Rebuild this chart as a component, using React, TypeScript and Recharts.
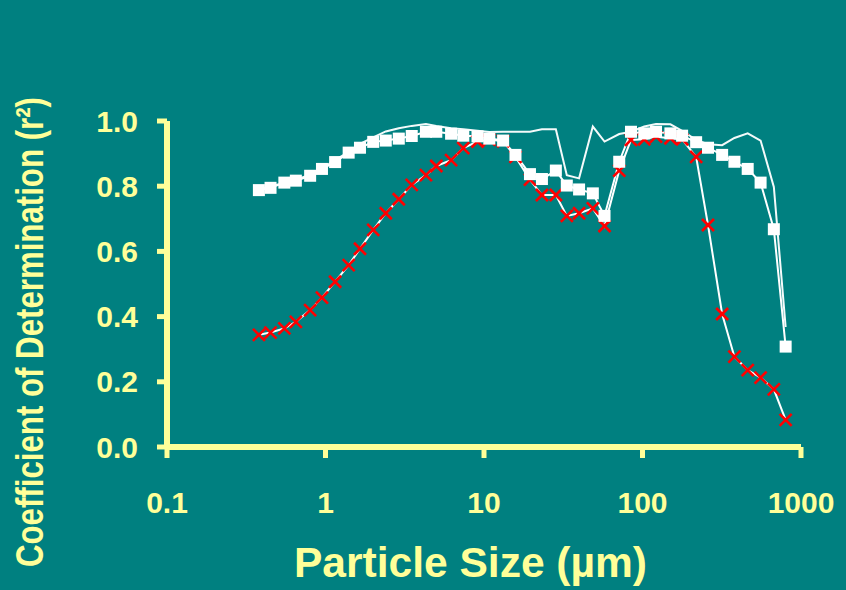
import React from "react";
import { LineChart, Line, XAxis, YAxis, Label } from "recharts";

const particleSize = [0.38, 0.45, 0.55, 0.65, 0.8, 0.95, 1.15, 1.4, 1.65, 2.0, 2.4, 2.9, 3.5, 4.3, 5.0, 6.2, 7.4, 9.1, 10.8, 13.2, 15.8, 19.5, 23.2, 28.4, 33.3, 39.8, 48.6, 57.6, 71.3, 84.6, 102.6, 121.7, 150, 177.8, 218, 259, 318, 380, 461, 556, 674, 800];

const squareSeries = [0.788, 0.795, 0.811, 0.817, 0.832, 0.853, 0.874, 0.903, 0.918, 0.936, 0.94, 0.946, 0.954, 0.967, 0.967, 0.961, 0.955, 0.953, 0.946, 0.94, 0.896, 0.837, 0.822, 0.848, 0.802, 0.79, 0.778, 0.709, 0.875, 0.967, 0.962, 0.967, 0.962, 0.955, 0.935, 0.918, 0.896, 0.875, 0.853, 0.811, 0.668, 0.308];

const plainSeries = [0.79, 0.8, 0.81, 0.82, 0.835, 0.855, 0.88, 0.905, 0.93, 0.95, 0.968, 0.978, 0.985, 0.991, 0.985, 0.978, 0.975, 0.97, 0.966, 0.967, 0.967, 0.967, 0.975, 0.975, 0.834, 0.824, 0.983, 0.937, 0.96, 0.967, 0.983, 0.991, 0.99, 0.97, 0.942, 0.929, 0.926, 0.948, 0.962, 0.94, 0.798, 0.368];

const crossSeries = [0.344, 0.351, 0.364, 0.384, 0.42, 0.458, 0.507, 0.558, 0.608, 0.666, 0.717, 0.76, 0.804, 0.834, 0.862, 0.88, 0.917, 0.937, 0.943, 0.938, 0.89, 0.82, 0.773, 0.773, 0.709, 0.717, 0.732, 0.678, 0.848, 0.942, 0.944, 0.952, 0.947, 0.944, 0.89, 0.681, 0.408, 0.277, 0.236, 0.213, 0.177, 0.083];

const xTicks = [0.1, 1, 10, 100, 1000];
const yTicks = [0, 0.2, 0.4, 0.6, 0.8, 1.0];

const data = particleSize.map((x, i) => ({
  x,
  sq: squareSeries[i],
  plain: plainSeries[i],
  cross: crossSeries[i],
}));

const BG = "#008080";
const YEL = "#FFFF99";
const FONT = "'Liberation Sans', Arial, Helvetica, sans-serif";

const SquareDot = (props: any) => {
  const { cx, cy, index } = props;
  if (cx == null || cy == null) return <g key={`sq-${index}`} />;
  return <rect key={`sq-${index}`} x={cx - 6} y={cy - 6} width={12} height={12} fill="#FFFFFF" />;
};

const CrossDot = (props: any) => {
  const { cx, cy, index } = props;
  if (cx == null || cy == null) return <g key={`cx-${index}`} />;
  const s = 6;
  return (
    <g key={`cx-${index}`}>
      <line x1={cx - s} y1={cy - s} x2={cx + s} y2={cy + s} stroke="#FF0000" strokeWidth={2.6} />
      <line x1={cx - s} y1={cy + s} x2={cx + s} y2={cy - s} stroke="#FF0000" strokeWidth={2.6} />
    </g>
  );
};

const fmtX = (v: number) => (v < 1 ? String(v) : String(Math.round(v)));
const fmtY = (v: number) => v.toFixed(1);

const tickStyle = { fill: YEL, fontSize: 30, fontWeight: "bold", fontFamily: FONT };

export default function App() {
  return (
    <div style={{ position: "absolute", left: 0, top: 0, width: 846, height: 590, background: BG }}>
      <LineChart
        width={846}
        height={590}
        data={data}
        margin={{ top: 121, right: 45, bottom: 0, left: 0 }}
        style={{ background: BG }}
      >
        <XAxis
          dataKey="x"
          type="number"
          scale="log"
          domain={[0.1, 1000]}
          ticks={xTicks}
          allowDataOverflow
          tickFormatter={fmtX}
          height={143}
          axisLine={{ stroke: YEL, strokeWidth: 6 }}
          tickLine={{ stroke: YEL, strokeWidth: 5 }}
          tickSize={11}
          tickMargin={34}
          tick={tickStyle}
          interval={0}
        >
          <Label
            content={() => (
              <text
                x={470.5}
                y={577}
                textAnchor="middle"
                fontSize={42}
                fontWeight="bold"
                fill={YEL}
                fontFamily={FONT}
                textLength={353}
                lengthAdjust="spacingAndGlyphs"
              >
                Particle Size (µm)
              </text>
            )}
          />
        </XAxis>
        <YAxis
          type="number"
          domain={[0, 1]}
          ticks={yTicks}
          tickFormatter={fmtY}
          width={167}
          axisLine={{ stroke: YEL, strokeWidth: 6 }}
          tickLine={{ stroke: YEL, strokeWidth: 5 }}
          tickSize={10}
          tickMargin={19}
          tick={tickStyle}
          interval={0}
        >
          <Label
            content={() => (
              <text
                x={0}
                y={0}
                transform="translate(43,332) rotate(-90)"
                textAnchor="middle"
                fontSize={39}
                fontWeight="bold"
                fill={YEL}
                fontFamily={FONT}
                textLength={470}
                lengthAdjust="spacingAndGlyphs"
              >
                Coefficient of Determination (r²)
              </text>
            )}
          />
        </YAxis>
        <Line
          dataKey="cross"
          type="linear"
          stroke="#FFFFFF"
          strokeWidth={2}
          dot={CrossDot}
          activeDot={false}
          isAnimationActive={false}
        />
        <Line
          dataKey="plain"
          type="linear"
          stroke="#F4FAFA"
          strokeWidth={2}
          dot={false}
          activeDot={false}
          isAnimationActive={false}
        />
        <Line
          dataKey="sq"
          type="linear"
          stroke="#FFFFFF"
          strokeWidth={2}
          dot={SquareDot}
          activeDot={false}
          isAnimationActive={false}
        />
      </LineChart>
    </div>
  );
}
